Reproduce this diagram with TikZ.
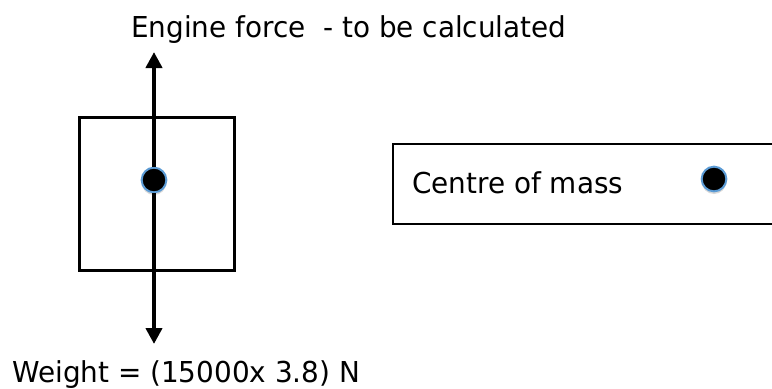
\documentclass[tikz,border=0pt]{standalone}
\usepackage{fontspec}
\setmainfont[FakeStretch=0.967]{DejaVu Sans}
\usetikzlibrary{shadows,arrows.meta}
\definecolor{dotblue}{HTML}{5B9BD5}
\tikzset{
  lbl/.style={font=\fontsize{21.6}{26}\selectfont, inner sep=0pt, anchor=base west},
  bodybox/.style={draw=black, line width=2pt, fill=white,
    drop shadow={shadow xshift=0.8pt, shadow yshift=-1.2pt, opacity=0.25}},
  legendbox/.style={draw=black, line width=1.3pt, fill=white},
  massdot/.style={circle, fill=black, draw=dotblue, line width=1.5pt, minimum size=18.5pt, inner sep=0pt,
    drop shadow={shadow xshift=0pt, shadow yshift=-2pt, opacity=0.3}},
  force/.style={line width=3pt, -{Triangle[length=12pt,width=12pt]}}
}
\begin{document}
\begin{tikzpicture}[x=0.75pt,y=-0.75pt]
\clip (0,0) rectangle (772,389);
\fill[white] (0,0) rectangle (772,389);
% body
\node[bodybox, minimum width=116.25pt, minimum height=114.75pt, anchor=north west] (body) at (78,116) {};
% legend
\node[legendbox, minimum width=287pt, minimum height=60pt, anchor=north west] (legend) at (392,143) {};
\node[lbl] (legtext) at (412,193) {Centre of mass};
\node[massdot] (legdot) at (714,179) {};
% centre of mass and the forces through it
\node[massdot] (cm) at (154,180) {};
\coordinate (up) at (154,52);
\coordinate (down) at (154,344);
\draw[force] (cm.north) -- (up);
\draw[force] (cm.south) -- (down);
\node[lbl] (engine) at (131,37) {Engine force\ \ - to be calculated};
\node[lbl] (weight) at (12,382) {Weight = (15000x 3.8) N};
\end{tikzpicture}
\end{document}
